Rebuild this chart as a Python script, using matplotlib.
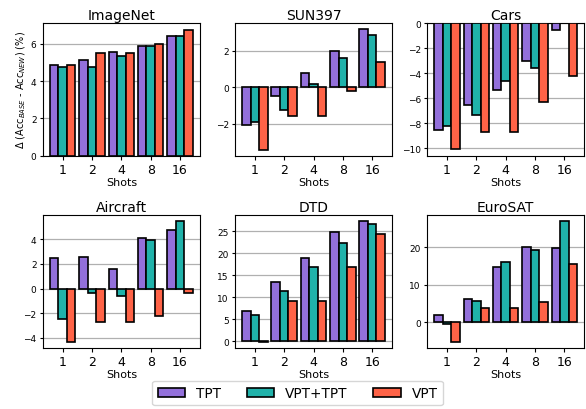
import numpy as np
import matplotlib
matplotlib.use("Agg")
import matplotlib.pyplot as plt

shots = ["1", "2", "4", "8", "16"]
metodos = ["TPT", "VPT+TPT", "VPT"]
colores = ["#9370DB", "#20B2AA", "#FF6347"]

datasets = ["ImageNet", "SUN397", "Cars", "Aircraft", "DTD", "EuroSAT"]

# valores: TPT, VPT+TPT, VPT
imagenet_tpt = [4.89, 5.16, 5.56, 5.91, 6.40]
imagenet_vt = [4.75, 4.78, 5.34, 5.86, 6.40]
imagenet_vpt = [4.89, 5.52, 5.52, 5.99, 6.77]

sun_tpt = [-2.06, -0.48, 0.80, 2.02, 3.20]
sun_vt = [-1.89, -1.24, 0.20, 1.59, 2.87]
sun_vpt = [-3.44, -1.59, -1.59, -0.20, 1.41]

cars_tpt = [-8.50, -6.50, -5.37, -3.03, -0.53]
cars_vt = [-8.22, -7.37, -4.65, -3.56, 0.0]
cars_vpt = [-10.08, -8.70, -8.70, -6.30, -4.23]

aircraft_tpt = [2.50, 2.56, 1.55, 4.08, 4.76]
aircraft_vt = [-2.45, -0.33, -0.65, 3.95, 5.47]
aircraft_vpt = [-4.35, -2.72, -2.72, -2.20, -0.33]

dtd_tpt = [6.87, 13.44, 18.90, 24.77, 27.27]
dtd_vt = [6.04, 11.48, 16.92, 22.28, 26.59]
dtd_vpt = [-0.10, 9.20, 9.20, 16.84, 24.40]

euro_tpt = [1.87, 6.30, 14.84, 20.00, 19.90]
euro_vt = [-0.44, 5.78, 16.00, 19.20, 26.93]
euro_vpt = [-5.24, 3.73, 3.73, 5.50, 15.56]

valores = [
    (imagenet_tpt, imagenet_vt, imagenet_vpt),
    (sun_tpt, sun_vt, sun_vpt),
    (cars_tpt, cars_vt, cars_vpt),
    (aircraft_tpt, aircraft_vt, aircraft_vpt),
    (dtd_tpt, dtd_vt, dtd_vpt),
    (euro_tpt, euro_vt, euro_vpt),
]

fig, axes = plt.subplots(2, 3, figsize=(5.86, 4.1), dpi=100)
fig.subplots_adjust(left=0.073, right=0.997, top=0.941, bottom=0.149,
                    wspace=0.223, hspace=0.45)

x = np.arange(len(shots))
ancho = 0.29
for ax, nombre, series in zip(axes.flat, datasets, valores):
    for i, (serie, color, metodo) in enumerate(zip(series, colores, metodos)):
        ax.bar(x + (i - 1) * ancho, serie, ancho, color=color,
               edgecolor="black", linewidth=1.2, label=metodo, zorder=3)
    ax.set_title(nombre, fontsize=10, pad=3)
    ax.set_xticks(x)
    ax.set_xticklabels(shots, fontsize=9)
    ax.tick_params(axis="y", labelsize=6.5, length=2.5, pad=2)
    ax.tick_params(axis="x", length=3, pad=2)
    ax.set_xlabel("Shots", fontsize=8, labelpad=1)
    ax.yaxis.grid(True, color="#b0b0b0", linewidth=0.9, zorder=0)
    ax.set_axisbelow(True)

axes[0, 0].set_ylabel("Δ (Aᴄᴄ$_{BASE}$ - Aᴄᴄ$_{NEW}$) (%)", fontsize=7, labelpad=2)

handles, labels = axes[0, 0].get_legend_handles_labels()
fig.legend(handles, labels, loc="lower center", ncol=3, fontsize=9.8,
           bbox_to_anchor=(0.508, -0.008), handlelength=2.0, columnspacing=1.9,
           handletextpad=0.8, frameon=True)

fig.savefig("out.png", dpi=100)
